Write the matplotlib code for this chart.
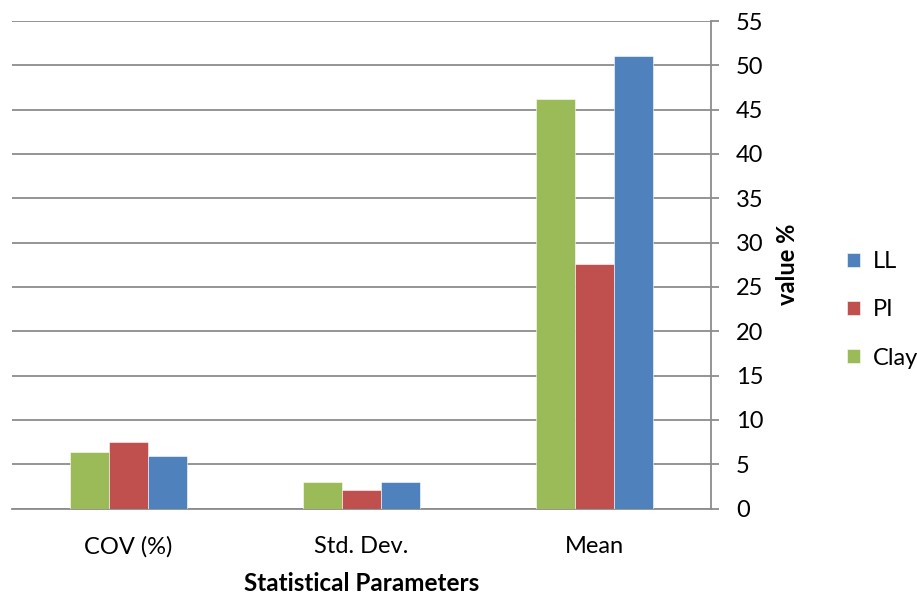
import matplotlib
matplotlib.use("Agg")
import matplotlib.pyplot as plt
import numpy as np

categories = ["COV (%)", "Std. Dev.", "Mean"]
clay = [6.4, 2.95, 46.2]
pi = [7.55, 2.1, 27.6]
ll = [5.95, 3.0, 51.1]
yticks = [0, 5, 10, 15, 20, 25, 30, 35, 40, 45, 50, 55]

plt.rcParams["font.family"] = ["Lato", "DejaVu Sans"]

fig = plt.figure(figsize=(9.17, 5.95), dpi=100)
ax = fig.add_axes([12 / 917, (595 - 508.5) / 595, (711 - 12) / 917, (508.5 - 21) / 595])

x = np.arange(len(categories))
w = 1.0 / 6.0
grid_c = "#8c8c8c"
fs = 17

series = [("Clay", clay, "#9BBB59"), ("PI", pi, "#C0504D"), ("LL", ll, "#4F81BD")]
handles = {}
for i, (name, vals, col) in enumerate(series):
    b = ax.bar(x + (i - 1) * w, vals, width=w, color=col, zorder=3,
               edgecolor="white", linewidth=0.4)
    handles[name] = b

ax.set_xlim(-0.5, len(categories) - 0.5)
ax.set_ylim(0, 55)
ax.set_yticks(yticks)
ax.yaxis.tick_right()
ax.yaxis.set_label_position("right")
ax.tick_params(axis="y", direction="out", length=6, width=1.3, color=grid_c,
               pad=12, labelsize=fs, labelcolor="black")
ax.set_xticks(x)
ax.set_xticklabels(categories)
ax.tick_params(axis="x", length=0, pad=20, labelsize=fs)

ax.grid(axis="y", color=grid_c, linewidth=1.3, zorder=0)
ax.set_axisbelow(True)
for s in ["top", "left"]:
    ax.spines[s].set_visible(False)
for s in ["bottom", "right"]:
    ax.spines[s].set_color(grid_c)
    ax.spines[s].set_linewidth(1.3)

ax.set_xlabel("Statistical Parameters", fontsize=17.5, fontweight="bold", labelpad=10)
ax.set_ylabel("value %", fontsize=17, fontweight="bold", labelpad=9)

leg = fig.legend([handles["LL"], handles["PI"], handles["Clay"]], ["LL", "PI", "Clay"],
                 loc="center left", bbox_to_anchor=(847 / 917, (595 - 310) / 595),
                 frameon=False, fontsize=fs, handlelength=0.55, handleheight=0.55,
                 handletextpad=0.55, labelspacing=1.15, borderaxespad=0, borderpad=0)

fig.savefig("out.png", dpi=100)
